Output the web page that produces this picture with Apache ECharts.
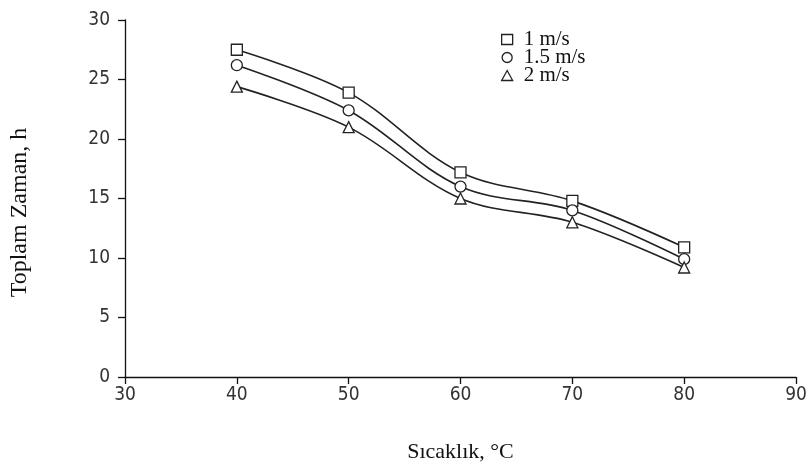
<!DOCTYPE html>
<html><head><meta charset="utf-8">
<script src="https://cdn.jsdelivr.net/npm/echarts@6/dist/echarts.min.js"></script>
<style>html,body{margin:0;padding:0;background:#fff}#c{width:811px;height:468px}</style>
</head><body><div id="c"></div>
<script>
const temps = [40, 50, 60, 70, 80];
const v1 = [27.5, 23.9, 17.2, 14.8, 10.9];
const v15 = [26.2, 22.4, 16.0, 14.0, 9.9];
const v2 = [24.4, 21.0, 15.0, 13.0, 9.2];
const seriesNames = ['1 m/s', '1.5 m/s', '2 m/s'];
const symbols = ['rect', 'circle', 'triangle'];
const xTicks = [30, 40, 50, 60, 70, 80, 90];
const yTicks = [0, 5, 10, 15, 20, 25, 30];

const chart = echarts.init(document.getElementById('c'));
const vals = [v1, v15, v2];
const tickFont = "'Liberation Sans Narrow', 'DejaVu Sans Condensed', 'Liberation Sans', sans-serif";
chart.setOption({
  animation: false,
  backgroundColor: '#fff',
  grid: {left: 125, right: 15, top: 20, bottom: 91, containLabel: false, outerBoundsMode: 'none'},
  legend: {
    orient: 'vertical', left: 496, top: 24, itemGap: -3,
    itemWidth: 11, itemHeight: 10,
    textStyle: {fontFamily: 'Liberation Serif', fontSize: 21, color: '#111', padding: [0,0,0,6]},
    data: seriesNames.map((n, i) => ({name: n, icon: symbols[i], itemStyle:{color:'#fff', borderColor:'#222', borderWidth:1.3}}))
  },
  xAxis: {
    type: 'value', min: xTicks[0], max: xTicks[xTicks.length-1], interval: 10,
    name: 'Sıcaklık, °C', nameLocation: 'middle', nameGap: 64,
    nameTextStyle: {fontFamily: 'Liberation Serif', fontSize: 22, color: '#111'},
    axisLine: {lineStyle: {color: '#111', width: 1.3}},
    axisTick: {inside: false, length: 7, lineStyle: {color: '#111', width: 1.3}},
    axisLabel: {fontFamily: tickFont, fontSize: 19, color: '#333', margin: 9},
    splitLine: {show: false}
  },
  yAxis: {
    type: 'value', min: yTicks[0], max: yTicks[yTicks.length-1], interval: 5,
    name: 'Toplam Zaman, h', nameLocation: 'middle', nameGap: 93, nameRotate: 90,
    nameTextStyle: {fontFamily: 'Liberation Serif', fontSize: 24, color: '#111', padding: [0, 28, 0, 0]},
    axisLine: {show: true, lineStyle: {color: '#111', width: 1.3}},
    axisTick: {show: true, inside: false, length: 7, lineStyle: {color: '#111', width: 1.3}},
    axisLabel: {fontFamily: tickFont, fontSize: 19, color: '#333', margin: 15},
    splitLine: {show: false}
  },
  series: seriesNames.map((n, i) => ({
    name: n, type: 'line', smooth: 0.35,
    data: temps.map((t, j) => [t, vals[i][j]]),
    symbol: symbols[i], symbolSize: 11,
    itemStyle: {color: '#fff', borderColor: '#222', borderWidth: 1.3},
    lineStyle: {color: '#222', width: 1.6},
    z: 2
  }))
});
</script></body></html>
